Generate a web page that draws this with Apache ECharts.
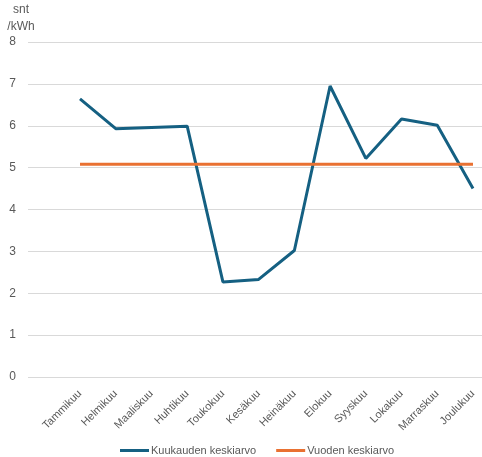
<!DOCTYPE html>
<html>
<head>
<meta charset="utf-8">
<script src="https://cdn.jsdelivr.net/npm/echarts@6/dist/echarts.min.js"></script>
<style>
    html, body {margin: 0; padding: 0; background: #fff;}
    #chart {width: 482px; height: 457px;}
</style>
</head>
<body>
<div id="chart"></div>
<script>
// kuukaudet
const months = ['Tammikuu', 'Helmikuu', 'Maaliskuu', 'Huhtikuu', 'Toukokuu', 'Kesäkuu',
    'Heinäkuu', 'Elokuu', 'Syyskuu', 'Lokakuu', 'Marraskuu', 'Joulukuu'];

// snt/kWh
const monthAvg = [6.64, 5.93, 5.96, 5.99, 2.27, 2.33, 3.02, 6.95, 5.22, 6.16, 6.01, 4.50];
const yearAvg = [5.08, 5.08, 5.08, 5.08, 5.08, 5.08, 5.08, 5.08, 5.08, 5.08, 5.08, 5.08];

const yMin = 0;
const yMax = 8;
const yStep = 1;

const FONT = 'Liberation Sans';
const GREY = '#595959';

const chart = echarts.init(document.getElementById('chart'));

chart.setOption({
    animation: false,
    textStyle: {fontFamily: FONT},
    graphic: [
        {
            type: 'text',
            x: 21,
            y: 1,
            style: {
                text: 'snt\n/kWh',
                fill: GREY,
                font: '12px ' + FONT,
                lineHeight: 17,
                align: 'center'
            }
        }
    ],
    // grid 0 only carries the gridlines, grid 1 the lines (first/last month on its edges)
    grid: [
        {left: 28, right: 0, top: 42, bottom: 80},
        {left: 80, right: 9, top: 42, bottom: 80}
    ],
    xAxis: [
        {
            gridIndex: 0,
            type: 'category',
            data: months,
            show: false
        },
        {
            gridIndex: 1,
            type: 'category',
            data: months,
            boundaryGap: false,
            axisLine: {show: false},
            axisTick: {show: false},
            axisLabel: {
                rotate: 45,
                margin: 15,
                color: GREY,
                fontSize: 11,
                interval: 0
            }
        }
    ],
    yAxis: [
        {
            gridIndex: 0,
            type: 'value',
            min: yMin,
            max: yMax,
            interval: yStep,
            axisLine: {show: false},
            axisTick: {show: false},
            axisLabel: {color: GREY, fontSize: 12, margin: 12},
            splitLine: {lineStyle: {color: '#d9d9d9', width: 1}}
        },
        {
            gridIndex: 1,
            type: 'value',
            min: yMin,
            max: yMax,
            interval: yStep,
            show: false
        }
    ],
    legend: {
        left: 115,
        bottom: -4,
        icon: 'rect',
        itemWidth: 29,
        itemHeight: 3,
        itemGap: 20,
        textStyle: {color: GREY, fontSize: 11, padding: [0, 0, 0, -3]},
        data: ['Kuukauden keskiarvo', 'Vuoden keskiarvo']
    },
    series: [
        {
            name: 'Kuukauden keskiarvo',
            type: 'line',
            xAxisIndex: 1,
            yAxisIndex: 1,
            data: monthAvg,
            symbol: 'none',
            color: '#156082',
            lineStyle: {width: 3, color: '#156082'}
        },
        {
            name: 'Vuoden keskiarvo',
            type: 'line',
            xAxisIndex: 1,
            yAxisIndex: 1,
            data: yearAvg,
            symbol: 'none',
            color: '#E97132',
            lineStyle: {width: 3, color: '#E97132'}
        }
    ]
});
</script>
</body>
</html>
